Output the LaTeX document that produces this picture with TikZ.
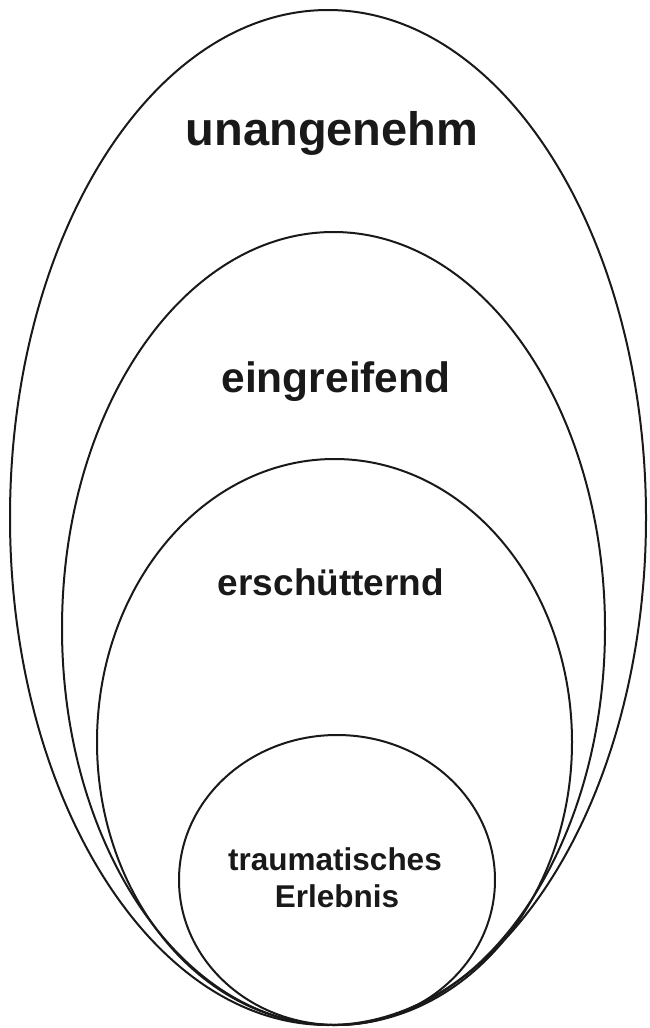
\documentclass[tikz,border=0pt]{standalone}
\usepackage{fontspec}
\setmainfont{Liberation Sans}
\begin{document}
\begin{tikzpicture}[x=1pt,y=-1pt,
  ring/.style={draw=black!90, line width=2pt},
  label/.style={font=\bfseries, text=black!90, anchor=base, align=center, inner sep=0pt}]
\useasboundingbox (0,0) rectangle (649,1028);
% nested levels, all resting on the same bottom point
\draw[ring] (328,517.5) ellipse [x radius=318, y radius=507.5];
\draw[ring] (333.5,628.5) ellipse [x radius=271.5, y radius=396.5];
\draw[ring] (334.5,742) ellipse [x radius=237.5, y radius=283];
\draw[ring] (337,880) ellipse [x radius=158, y radius=145];
% level names
\node[label, font=\fontsize{47}{51}\selectfont\bfseries] (l1) at (332,145) {unangenehm};
\node[label, font=\fontsize{42.5}{46}\selectfont\bfseries] (l2) at (336,392) {eingreifend};
\node[label, font=\fontsize{37}{41}\selectfont\bfseries] (l3) at (331,595) {erschütternd};
\node[label, font=\fontsize{31.5}{37}\selectfont\bfseries] (l4) at (335,870) {traumatisches};
\node[label, font=\fontsize{31.5}{37}\selectfont\bfseries] (l5) at (337,907) {Erlebnis};
\end{tikzpicture}
\end{document}
